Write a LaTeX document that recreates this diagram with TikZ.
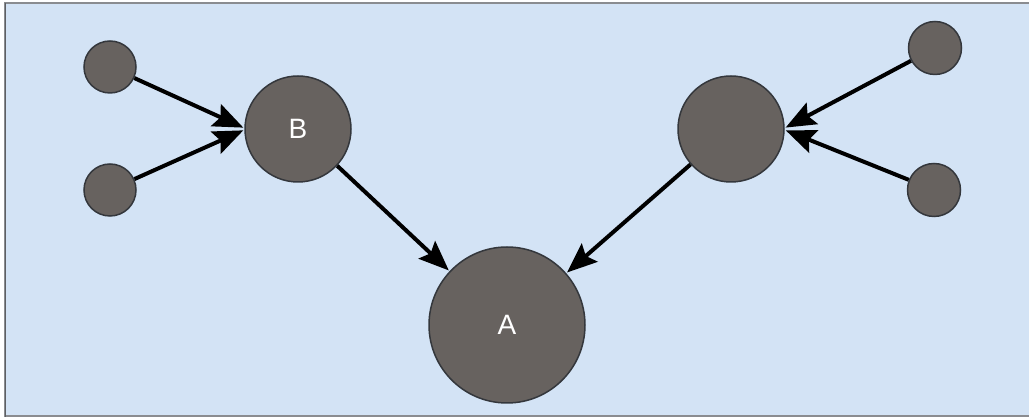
\documentclass[tikz,border=0pt]{standalone}
\usepackage{fontspec}
\setmainfont{Liberation Sans}
\usetikzlibrary{arrows.meta}
\definecolor{bgblue}{HTML}{D3E3F5}
\definecolor{nodegray}{HTML}{67625F}
\definecolor{nodeline}{HTML}{34373C}
\definecolor{framegray}{HTML}{8A8C90}
\begin{document}
\begin{tikzpicture}[x=1pt,y=-1pt,
  dot/.style={circle,fill=nodegray,draw=nodeline,line width=1.5pt,inner sep=0pt,minimum size=#1,text=white,font=\fontsize{28}{28}\selectfont},
  conn/.style={line width=4pt,black,-{Stealth[length=30pt,width=24pt,inset=5pt]},shorten >=1pt}]
\useasboundingbox (0,0) rectangle (1029,419);
\fill[white] (0,0) rectangle (1029,419);
\fill[bgblue] (5,3) rectangle (1029,417);
\draw[framegray,line width=2pt] (1029,3.5) -- (5,3.5) -- (5,416.5) -- (1029,416.5);
\draw[nodeline!80,line width=1pt] (5.5,3) -- (5.5,417);
\node[dot=52pt] (s1) at (110,67) {};
\node[dot=52pt] (s2) at (110,190) {};
\node[dot=106pt] (B) at (298,129) {B};
\node[dot=106pt] (C) at (731,129) {};
\node[dot=53pt] (s3) at (935,48) {};
\node[dot=53pt] (s4) at (934,190) {};
\node[dot=156pt] (A) at (507,325) {A};
\draw[conn] (s1) -- (B.179);
\draw[conn] (s2) -- (B.181);
\draw[conn] (s3) -- (C.1);
\draw[conn] (s4) -- (C.359);
\draw[conn] (B) -- (A);
\draw[conn] (C) -- (A);
\end{tikzpicture}
\end{document}
